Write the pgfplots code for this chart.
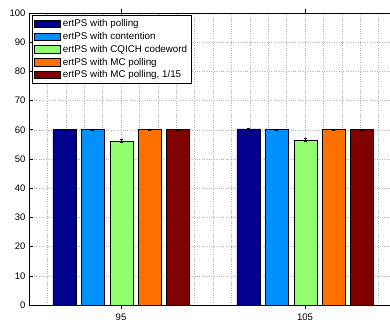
\documentclass[border=0pt]{standalone}
\usepackage{fontspec}
\setmainfont{Liberation Sans}
\usepackage{pgfplots}
\pgfplotsset{compat=1.18}
\definecolor{c1}{rgb}{0,0,0.56}
\definecolor{c2}{rgb}{0,0.57,1}
\definecolor{c3}{rgb}{0.57,1,0.43}
\definecolor{c4}{rgb}{1,0.44,0}
\definecolor{c5}{rgb}{0.5,0,0}
\begin{document}
\begin{tikzpicture}
\useasboundingbox (0,0) rectangle (390pt,324pt);
\clip (0,0) rectangle (390pt,324pt);
\begin{axis}[
  at={(29pt,19pt)}, anchor=south west,
  scale only axis, width=368pt, height=292pt,
  xmin=90, xmax=110, ymin=0, ymax=100,
  xtick={95,105}, minor xtick={90,...,110},
  ytick={0,10,...,100},
  tick align=inside, major tick length=4pt, minor tick length=0pt,
  grid=both,
  major grid style={dotted, gray!60},
  minor grid style={dotted, gray!60},
  axis line style={black, line width=0.9pt},
  tick style={black, line width=0.6pt},
  ticklabel style={font=\fontsize{9.5}{11}\selectfont},
  xticklabel style={yshift=-1pt},
  /pgf/number format/assume math mode=true,
  ybar, bar shift=0pt, bar width=1.25,
  every axis plot/.append style={draw=black, line width=0.6pt},
  legend style={at={(0.008,0.994)}, anchor=north west, draw=black, line width=0.9pt,
    font=\fontsize{9.8}{11}\selectfont, inner sep=2pt, row sep=0.3pt,
    cells={anchor=west}},
  legend image code/.code={\draw[#1, line width=0.6pt] (0pt,-3.6pt) rectangle (26pt,3.6pt);},
  error bars/y dir=both, error bars/y explicit,
  error bars/error bar style={black, line width=0.8pt},
  error bars/error mark options={black, line width=0.8pt, mark size=1.5pt, rotate=90},
]
\addplot[fill=c1] coordinates {(91.92,60) +- (0,0.1) (101.92,60.3) +- (0,0.35)};
\addlegendentry{ertPS with polling}
\addplot[fill=c2] coordinates {(93.46,60) +- (0,0.1) (103.46,60) +- (0,0.1)};
\addlegendentry{ertPS with contention}
\addplot[fill=c3] coordinates {(95.02,56.2) +- (0,0.5) (105.02,56.5) +- (0,0.6)};
\addlegendentry{ertPS with CQICH codeword}
\addplot[fill=c4] coordinates {(96.56,60) +- (0,0.1) (106.56,60) +- (0,0.1)};
\addlegendentry{ertPS with MC polling}
\addplot[fill=c5] coordinates {(98.08,60) +- (0,0.1) (108.08,60) +- (0,0.1)};
\addlegendentry{ertPS with MC polling, 1/15}
\end{axis}
\end{tikzpicture}
\end{document}
